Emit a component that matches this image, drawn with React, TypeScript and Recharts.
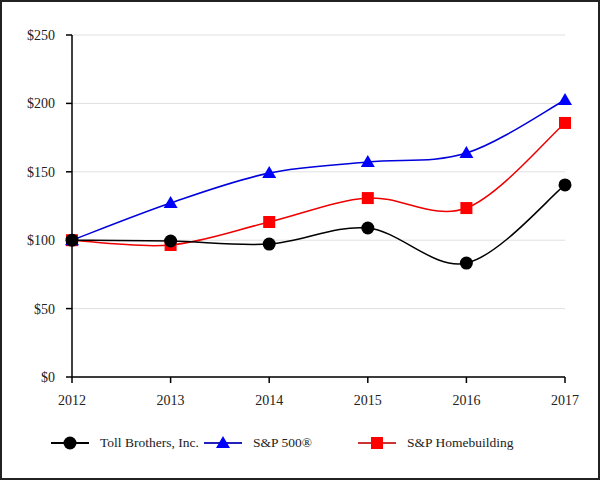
import { CartesianGrid, Legend, Line, LineChart, XAxis, YAxis } from "recharts";

const years = ["2012", "2013", "2014", "2015", "2016", "2017"];
const tollBrothers = [100, 99.4, 97.2, 108.9, 83.3, 140.4];
const sp500 = [100, 127.2, 149.1, 157.2, 163.7, 202.5];
const spHomebuilding = [100, 96.5, 113.3, 130.8, 123.5, 185.7];
const yTicks = [0, 50, 100, 150, 200, 250];

const data = years.map((year, i) => ({
  year,
  toll: tollBrothers[i],
  sp500: sp500[i],
  homebuilding: spHomebuilding[i],
}));

const FONT = "'Times New Roman', 'Liberation Serif', 'DejaVu Serif', serif";

// Excel-like smoothed line (Catmull-Rom bezier)
const smoothCurve = (context: any) => {
  let pts: number[][] = [];
  return {
    areaStart() {},
    areaEnd() {},
    lineStart() {
      pts = [];
    },
    point(x: number, y: number) {
      pts.push([+x, +y]);
    },
    lineEnd() {
      if (!pts.length) return;
      context.moveTo(pts[0][0], pts[0][1]);
      for (let i = 0; i < pts.length - 1; i++) {
        const p0 = pts[i - 1] || pts[i];
        const p1 = pts[i];
        const p2 = pts[i + 1];
        const p3 = pts[i + 2] || pts[i + 1];
        context.bezierCurveTo(
          p1[0] + (p2[0] - p0[0]) / 6,
          p1[1] + (p2[1] - p0[1]) / 6,
          p2[0] - (p3[0] - p1[0]) / 6,
          p2[1] - (p3[1] - p1[1]) / 6,
          p2[0],
          p2[1]
        );
      }
    },
  };
};

const Circle = ({ cx, cy }: any) => <circle cx={cx} cy={cy} r={6.5} fill="#000" />;
const Triangle = ({ cx, cy }: any) => (
  <polygon points={`${cx},${cy - 7} ${cx + 7},${cy + 5} ${cx - 7},${cy + 5}`} fill="#0000ff" />
);
const Square = ({ cx, cy }: any) => (
  <rect x={cx - 6} y={cy - 6} width={12} height={12} fill="#ff0000" />
);

const legendItems = [
  { label: "Toll Brothers, Inc.", color: "#000", shape: "circle", left: 49 },
  { label: "S&P 500®", color: "#2222bb", shape: "triangle", left: 202 },
  { label: "S&P Homebuilding", color: "#cc3333", shape: "square", left: 356 },
];

const renderLegend = () => (
  <div style={{ position: "relative", height: 20, fontFamily: FONT, fontSize: 13.5 }}>
    {legendItems.map((item) => (
      <div
        key={item.label}
        style={{ position: "absolute", left: item.left, top: 0, display: "flex", alignItems: "center" }}
      >
        <svg width={38} height={16}>
          <line x1={0} y1={8} x2={38} y2={8} stroke={item.color} strokeWidth={2} />
          {item.shape === "circle" && <circle cx={19} cy={8} r={6.5} fill="#000" />}
          {item.shape === "triangle" && <polygon points="19,1 26,13 12,13" fill="#0000ff" />}
          {item.shape === "square" && <rect x={13} y={2} width={12} height={12} fill="#ff0000" />}
        </svg>
        <span style={{ marginLeft: 11, color: "#222" }}>{item.label}</span>
      </div>
    ))}
  </div>
);

export default function App() {
  return (
    <div
      style={{
        position: "absolute",
        left: 0,
        top: 0,
        width: 600,
        height: 480,
        border: "2px solid #222",
        boxSizing: "border-box",
        background: "#fff",
        fontFamily: FONT,
      }}
    >
      <LineChart
        width={596}
        height={476}
        data={data}
        margin={{ top: 33, right: 33, left: 0, bottom: 51 }}
      >
        <CartesianGrid vertical={false} stroke="#e0e0e0" />
        <XAxis
          dataKey="year"
          stroke="#000"
          strokeWidth={1.5}
          tickSize={6}
          height={30}
          tick={{ fill: "#222", fontSize: 14, fontFamily: FONT, dy: 10 }}
        />
        <YAxis
          width={70}
          domain={[0, 250]}
          ticks={yTicks}
          stroke="#000"
          strokeWidth={1.5}
          tickSize={6}
          tickFormatter={(v) => `$${v}`}
          tick={{ fill: "#222", fontSize: 14, fontFamily: FONT, dx: -9 }}
        />
        <Legend
          verticalAlign="bottom"
          content={renderLegend}
          wrapperStyle={{ position: "absolute", left: 0, top: 433, width: 596, height: 20 }}
        />
        <Line
          type={smoothCurve as any}
          dataKey="homebuilding"
          stroke="#ee0000"
          strokeWidth={1.5}
          dot={<Square />}
          isAnimationActive={false}
        />
        <Line
          type={smoothCurve as any}
          dataKey="sp500"
          stroke="#0000dd"
          strokeWidth={1.5}
          dot={<Triangle />}
          isAnimationActive={false}
        />
        <Line
          type={smoothCurve as any}
          dataKey="toll"
          stroke="#000"
          strokeWidth={1.5}
          dot={<Circle />}
          isAnimationActive={false}
        />
      </LineChart>
    </div>
  );
}
